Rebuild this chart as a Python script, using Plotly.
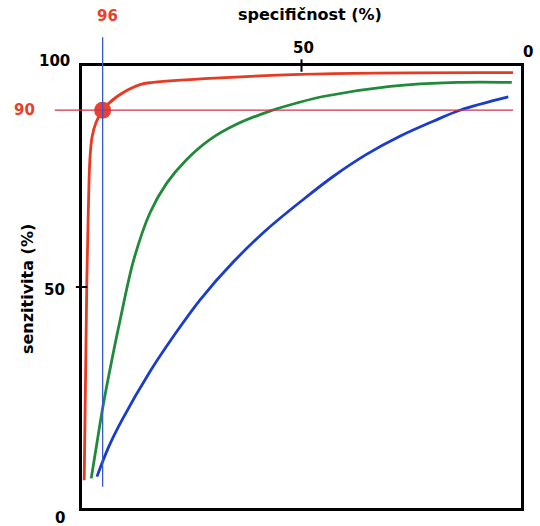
import plotly.graph_objects as go

# ROC curves: specificity (x, reversed) vs sensitivity (y)
spec_red = [99.5, 98.9, 98.5, 98.2, 97.7, 96.8, 95.3, 92.0, 86.8, 83.8, 50.3, 1.8]
sens_red = [6.3, 51.6, 69.8, 78.8, 84.0, 87.2, 90.0, 93.1, 95.8, 96.3, 98.1, 98.5]

spec_green = [97.9, 96.6, 95.1, 93.2, 91.3, 88.2, 84.5, 80.7, 76.2, 70.8, 64.8, 57.2,
              50.8, 45.1, 29.8, 14.6, 2.1]
sens_green = [6.7, 14.7, 23.7, 33.5, 42.6, 56.2, 66.8, 73.5, 78.8, 83.4, 86.8, 89.8,
              91.7, 93.1, 95.4, 96.3, 96.3]

spec_blue = [96.6, 93.9, 90.9, 84.5, 79.2, 73.1, 65.5, 57.9, 49.6, 42.8, 35.2,
             27.6, 20.0, 13.9, 2.9]
sens_blue = [7.1, 13.9, 19.9, 30.9, 38.8, 47.1, 55.7, 63.0, 69.8, 75.0, 80.0,
             84.1, 87.5, 90.0, 93.0]

# marked operating point and its guide lines
point_spec = 95.3
point_sens = 90.0
point_spec_label = "96"
point_sens_label = "90"
hline_spec = [106.2, 1.8]
vline_sens = [4.8, 106.5]

# tick labels
x_ticks = [50, 0]
x_tick_labels = ["50", "0"]
y_ticks = [100, 50, 0]
y_tick_labels = ["100", "50", "0"]

X_RANGE = [100, 0]
Y_RANGE = [0, 100]


def px_(v):
    # data -> paper along x
    return (v - X_RANGE[0]) / (X_RANGE[1] - X_RANGE[0])


def py_(v):
    return (v - Y_RANGE[0]) / (Y_RANGE[1] - Y_RANGE[0])


RED = "#e83a22"
GREEN = "#1f8a3a"
BLUE = "#1a3ccc"

fig = go.Figure()
for xs, ys, col in [(spec_blue, sens_blue, BLUE),
                    (spec_green, sens_green, GREEN),
                    (spec_red, sens_red, RED)]:
    fig.add_trace(go.Scatter(x=xs, y=ys, mode="lines",
                             line=dict(color=col, width=2.8, shape="spline",
                                       smoothing=1.0, simplify=False),
                             hoverinfo="skip", showlegend=False))

shapes = [
    dict(type="line", xref="paper", yref="paper",
         x0=px_(hline_spec[0]), x1=px_(hline_spec[1]),
         y0=py_(point_sens), y1=py_(point_sens),
         line=dict(color="#d0304e", width=1.3)),
    dict(type="line", xref="paper", yref="paper",
         x0=px_(point_spec), x1=px_(point_spec),
         y0=py_(vline_sens[0]), y1=py_(vline_sens[1]),
         line=dict(color="#3558cc", width=1.3)),
    # crossing tick marks at 50
    dict(type="line", xref="paper", yref="paper",
         x0=px_(50), x1=px_(50), y0=0.987, y1=1.015,
         line=dict(color="black", width=2)),
    dict(type="line", xref="paper", yref="paper",
         x0=-0.014, x1=0.012, y0=py_(50), y1=py_(50),
         line=dict(color="black", width=2)),
]

fig.add_trace(go.Scatter(x=[point_spec], y=[point_sens], mode="markers",
                         marker=dict(size=17, color="#ec4030"),
                         cliponaxis=False, hoverinfo="skip", showlegend=False))

num_font = dict(family="DejaVu Sans", size=15, color="black", weight="bold")
red_font = dict(family="DejaVu Sans", size=15, color="#e8402a", weight="bold")
ttl_font = dict(family="DejaVu Sans", size=16, color="black", weight="bold")

ann = []
x_shift = {"50": (2, 18.5), "0": (6.5, 14.5)}
for v, t in zip(x_ticks, x_tick_labels):
    dx, dy = x_shift[t]
    ann.append(dict(x=px_(v), y=1, xref="paper", yref="paper", text=t,
                    showarrow=False, xanchor="center", yanchor="middle",
                    xshift=dx, yshift=dy, font=num_font))
y_shift = {"100": (-10, 5), "50": (-15, -3), "0": (-15, -10)}
for v, t in zip(y_ticks, y_tick_labels):
    dx, dy = y_shift[t]
    ann.append(dict(x=0, y=py_(v), xref="paper", yref="paper", text=t,
                    showarrow=False, xanchor="right", yanchor="middle",
                    xshift=dx, yshift=dy, font=num_font))

ann.append(dict(x=px_(point_spec), y=1, xref="paper", yref="paper", text=point_spec_label,
                showarrow=False, xanchor="center", yanchor="middle",
                xshift=5, yshift=50, font=red_font))
ann.append(dict(x=0, y=py_(point_sens), xref="paper", yref="paper", text=point_sens_label,
                showarrow=False, xanchor="center", yanchor="middle",
                xshift=-58, yshift=0, font=red_font))

ann.append(dict(x=0.519, y=1, xref="paper", yref="paper", text="specifičnost (%)",
                showarrow=False, xanchor="center", yanchor="middle",
                yshift=52, font=ttl_font))
ann.append(dict(x=0, y=0.5, xref="paper", yref="paper", text="senzitivita (%)",
                showarrow=False, xanchor="center", yanchor="middle", textangle=-90,
                xshift=-55, yshift=-2, font=ttl_font))

axis_style = dict(showgrid=False, zeroline=False, showticklabels=False, ticks="",
                  showline=True, mirror=True, linecolor="black", linewidth=2.5)

fig.update_layout(
    width=540, height=526,
    margin=dict(l=82, r=19, t=66, b=18),
    paper_bgcolor="white", plot_bgcolor="white",
    xaxis=dict(range=X_RANGE, **axis_style),
    yaxis=dict(range=Y_RANGE, **axis_style),
    shapes=shapes, annotations=ann,
)

# the page body has a default 8px margin; remove it so the figure sits at 0,0
fig.write_html("out.html", config={"displayModeBar": False},
               post_script="document.body.style.margin='0';")
